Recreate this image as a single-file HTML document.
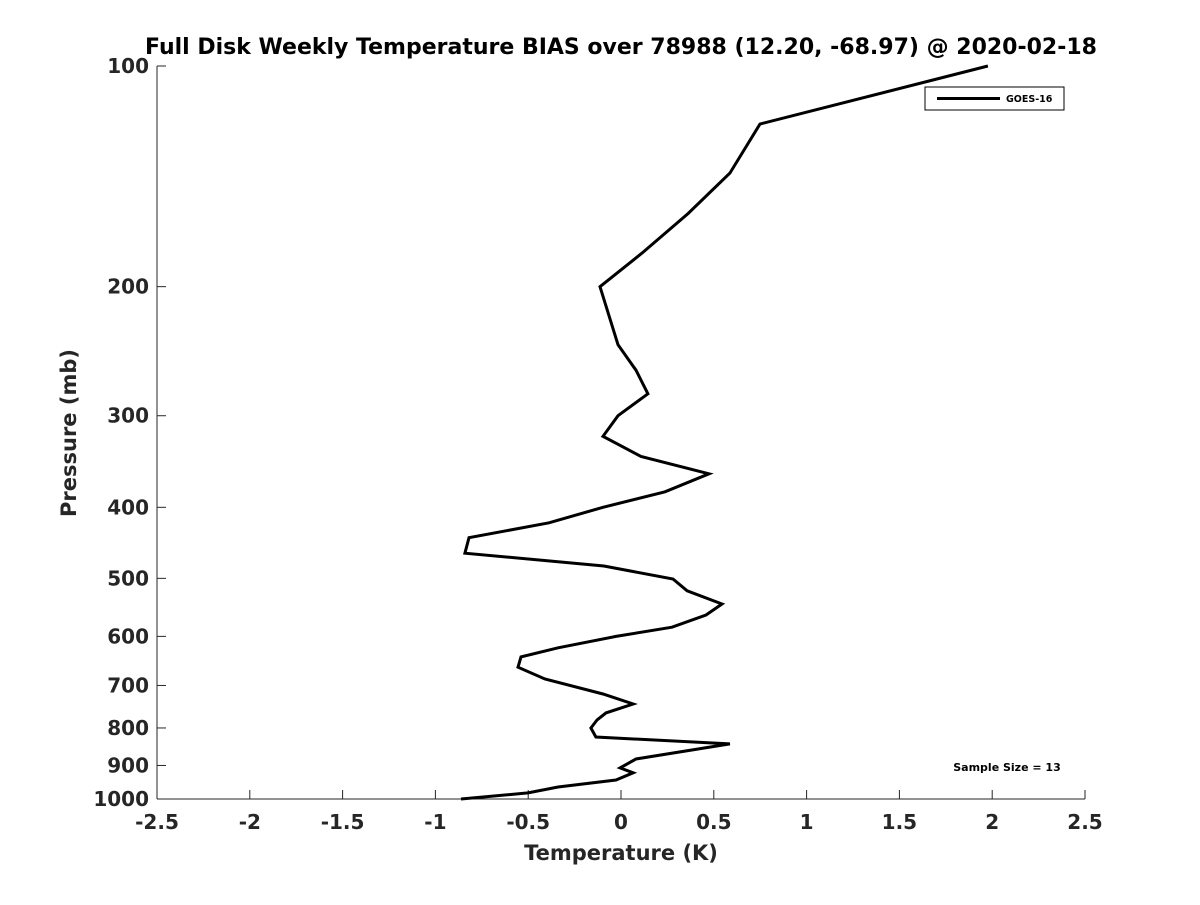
<!DOCTYPE html>
<html><head><meta charset="utf-8"><style>
body{margin:0;background:#fff}
svg text{font-family:"DejaVu Sans","Liberation Sans",sans-serif;font-weight:bold;fill:#262626}
</style></head><body>
<svg id="chart" width="1200" height="900">
<rect width="1200" height="900" fill="#fff"/>
<text x="621" y="54" text-anchor="middle" font-size="22" style="fill:#000">Full Disk Weekly Temperature BIAS over 78988 (12.20, -68.97) @ 2020-02-18</text>
<g id="axes"></g>
<path id="line" fill="none" stroke="#000" stroke-width="3"/>
<g>
<rect x="925" y="87" width="139" height="23" fill="#fff" stroke="#000" stroke-width="1"/>
<line x1="937" y1="98.5" x2="1000" y2="98.5" stroke="#000" stroke-width="3"/>
<text x="1006" y="102" font-size="9.5" style="fill:#000">GOES-16</text>
</g>
<text x="1007" y="771" text-anchor="middle" font-size="11" style="fill:#000">Sample Size = 13</text>
<text x="621" y="860" text-anchor="middle" font-size="21">Temperature (K)</text>
<text transform="translate(76,433) rotate(-90)" text-anchor="middle" font-size="21">Pressure (mb)</text>
</svg>
<script>
const xTicks=[-2.5,-2,-1.5,-1,-0.5,0,0.5,1,1.5,2,2.5];
const yTicks=[100,200,300,400,500,600,700,800,900,1000];
const temps=[1.977,0.749,0.587,0.361,0.113,-0.113,-0.016,0.081,0.145,-0.016,-0.097,0.108,0.474,0.237,-0.097,-0.388,-0.819,-0.841,-0.092,0.280,0.356,0.544,0.458,0.275,-0.027,-0.339,-0.539,-0.555,-0.41,-0.097,0.065,-0.081,-0.129,-0.162,-0.135,0.587,0.081,-0.005,0.065,-0.027,-0.339,-0.501,-0.862];
const pressures=[100,120,140,159,180,200,240,260,280,300,320,341,360,381,400,420,440,462,481,501,520,542,561,583,600,622,640,661,686,719,742,763,780,800,823,841,882,907,921,942,963,981,1000];
const L=157,R=1085,T=66,B=799;
const xs=v=>L+(v+2.5)/5*(R-L);
const ys=p=>T+(Math.log10(p)-2)*(B-T);
const NS="http://www.w3.org/2000/svg";
const ax=document.getElementById('axes');
function mk(tag,attrs,txt){const e=document.createElementNS(NS,tag);for(const k in attrs)e.setAttribute(k,attrs[k]);if(txt!==undefined)e.textContent=txt;ax.appendChild(e);return e;}
let e=mk('line',{x1:L,y1:B,x2:R,y2:B,stroke:'#262626','stroke-width':1});


e=mk('line',{x1:L,y1:T,x2:L,y2:B,stroke:'#262626','stroke-width':1});


xTicks.forEach(v=>{const x=xs(v);
 mk('line',{x1:x,y1:B,x2:x,y2:B-9,stroke:'#262626'});
 const t=mk('text',{x:x,y:B+30,'text-anchor':'middle','font-size':20},String(v));
 
 
});
yTicks.forEach(p=>{const y=ys(p);
 mk('line',{x1:L,y1:y,x2:L+9,y2:y,stroke:'#262626'});
 const t=mk('text',{x:L-8,y:y+7,'text-anchor':'end','font-size':20},String(p));
 
 
});
document.getElementById('line').setAttribute('d',temps.map((v,i)=>(i?'L':'M')+xs(v).toFixed(1)+','+ys(pressures[i]).toFixed(1)).join(''));
</script>
</body></html>
